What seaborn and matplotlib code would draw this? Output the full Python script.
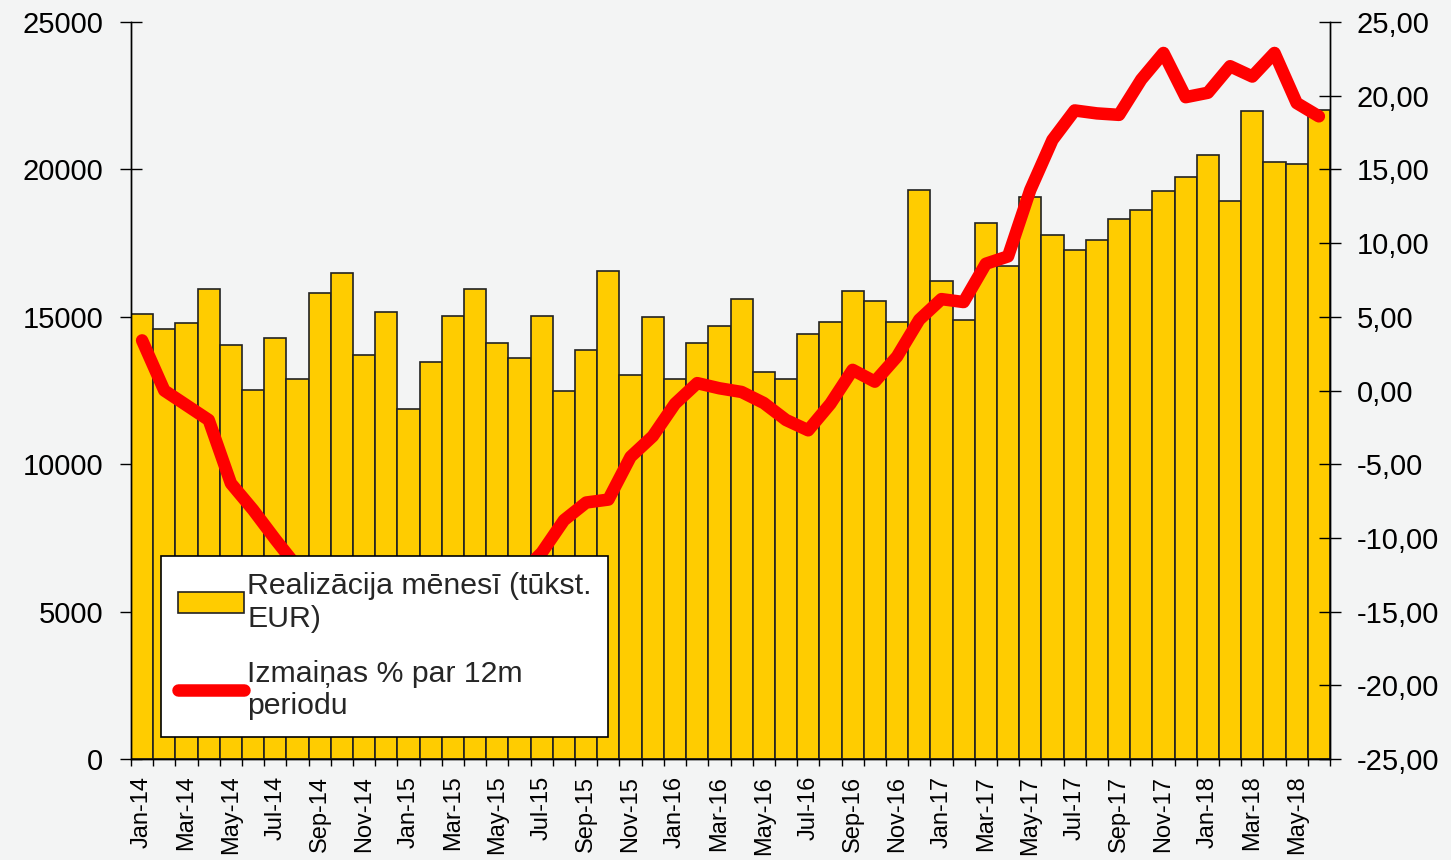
import numpy as np
import pandas as pd
import matplotlib
matplotlib.use("Agg")
import matplotlib.pyplot as plt
import seaborn as sns
from matplotlib.ticker import FuncFormatter, FixedLocator
from matplotlib.patches import Patch
from matplotlib.lines import Line2D

# ---- data ----
months = ['Jan-14', 'Feb-14', 'Mar-14', 'Apr-14', 'May-14', 'Jun-14', 'Jul-14', 'Aug-14', 'Sep-14', 'Oct-14', 'Nov-14', 'Dec-14',
          'Jan-15', 'Feb-15', 'Mar-15', 'Apr-15', 'May-15', 'Jun-15', 'Jul-15', 'Aug-15', 'Sep-15', 'Oct-15', 'Nov-15', 'Dec-15',
          'Jan-16', 'Feb-16', 'Mar-16', 'Apr-16', 'May-16', 'Jun-16', 'Jul-16', 'Aug-16', 'Sep-16', 'Oct-16', 'Nov-16', 'Dec-16',
          'Jan-17', 'Feb-17', 'Mar-17', 'Apr-17', 'May-17', 'Jun-17', 'Jul-17', 'Aug-17', 'Sep-17', 'Oct-17', 'Nov-17', 'Dec-17',
          'Jan-18', 'Feb-18', 'Mar-18', 'Apr-18', 'May-18', 'Jun-18']

sales = [15100, 14600, 14800, 15950, 14050, 12500, 14270, 12900, 15800, 16500, 13700, 15150,
         11870, 13450, 15030, 15950, 14100, 13600, 15030, 12480, 13860, 16560, 13040, 14990,
         12890, 14110, 14680, 15600, 13140, 12890, 14420, 14830, 15860, 15550, 14830, 19310,
         16200, 14880, 18190, 16710, 19060, 17790, 17280, 17600, 18310, 18610, 19270, 19740,
         20490, 18920, 21980, 20240, 20190, 22010]

change_pct = [3.4, 0.0, -1.0, -2.0, -6.3, -8.1, -10.1, -12.0, -13.5, -14.5, -15.5, -16.0,
              -16.5, -16.0, -15.5, -14.5, -13.5, -12.5, -11.0, -8.8, -7.6, -7.4, -4.5, -3.1,
              -0.9, 0.5, 0.15, -0.1, -0.85, -2.0, -2.7, -0.9, 1.4, 0.6, 2.3, 4.8,
              6.2, 6.0, 8.6, 9.1, 13.6, 17.0, 19.0, 18.8, 18.7, 21.1, 22.9, 19.9,
              20.2, 22.0, 21.3, 22.9, 19.5, 18.6]

legend_labels = ['Realizācija mēnesī (tūkst.\nEUR)', 'Izmaiņas % par 12m\nperiodu']

df = pd.DataFrame({'month': months, 'sales': sales, 'change': change_pct})
df['pos'] = np.arange(len(df))

# ---- style ----
BG = '#f3f4f4'
BAR = '#FFCC00'
EDGE = '#222222'
RED = '#FF0000'

sns.set_theme(style='white')
plt.rcParams['font.family'] = ['Liberation Sans', 'DejaVu Sans']

fig = plt.figure(figsize=(14.51, 8.60), dpi=100, facecolor=BG)
ax = fig.add_axes([131 / 1451, 1 - 759 / 860, (1330 - 131) / 1451, (759 - 22) / 860])
ax.set_facecolor(BG)

sns.barplot(data=df, x='month', y='sales', color=BAR, saturation=1, width=1.0,
            edgecolor=EDGE, linewidth=1.2, ax=ax, zorder=2)

ax2 = ax.twinx()
sns.lineplot(data=df, x='pos', y='change', color=RED, linewidth=9, ax=ax2,
             solid_capstyle='round', solid_joinstyle='round', zorder=3)

ax.set_xlim(-0.5, len(months) - 0.5)
ax.set_ylim(0, 25000)
ax2.set_ylim(-25, 25)

ax.set_xlabel('')
ax.set_ylabel('')
ax2.set_xlabel('')
ax2.set_ylabel('')

# x ticks
ax.xaxis.set_major_locator(FixedLocator(list(range(0, len(months), 2))))
ax.set_xticklabels(months[::2], rotation=90)
ax.xaxis.set_minor_locator(FixedLocator(list(np.arange(-0.5, len(months), 1.0))))
ax.tick_params(axis='x', which='major', length=0, pad=12, labelsize=17, colors='black')
ax.tick_params(axis='x', which='minor', bottom=True, length=5, width=1, direction='out', color='black')

# y ticks
ax.set_yticks(range(0, 25001, 5000))
ax.tick_params(axis='y', which='major', left=True, direction='inout', length=16, width=1,
               labelsize=21, pad=12, colors='black')
ax2.set_yticks(range(-25, 26, 5))
ax2.yaxis.set_major_formatter(FuncFormatter(lambda v, p: f'{v:.2f}'.replace('.', ',')))
ax2.tick_params(axis='y', which='major', right=True, direction='inout', length=16, width=1,
                labelsize=21, pad=11, colors='black')

for a in (ax, ax2):
    a.grid(False)
    a.spines['top'].set_visible(False)
    for s in ('left', 'right', 'bottom'):
        a.spines[s].set_color('black')
        a.spines[s].set_linewidth(1.0)
ax2.patch.set_visible(False)

handles = [Patch(facecolor=BAR, edgecolor=EDGE, linewidth=1.2),
           Line2D([0], [0], color=RED, linewidth=9, solid_capstyle='round')]
leg = ax2.legend(handles, legend_labels, loc='lower left', bbox_to_anchor=(0.025, 0.03),
                 borderaxespad=0, frameon=True, fancybox=False, facecolor='white',
                 edgecolor='black', framealpha=1, fontsize=21.8, handlelength=2.2,
                 handletextpad=0.1, labelspacing=0.9, borderpad=0.55)
leg.get_frame().set_linewidth(1.2)
leg.set_zorder(10)

fig.savefig('out.png', dpi=100, facecolor=BG)
